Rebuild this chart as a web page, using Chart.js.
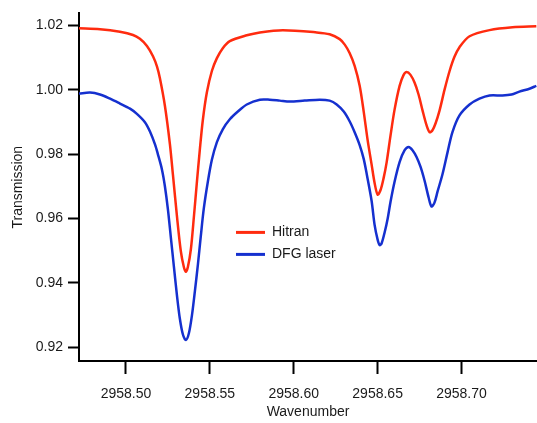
<!DOCTYPE html>
<html>
<head>
<meta charset="utf-8">
<script src="https://cdn.jsdelivr.net/npm/chart.js@4"></script>
<style>
  body { margin: 0; background: #fff; }
  canvas { display: block; }
</style>
</head>
<body>
<canvas id="specChart" width="537" height="423"></canvas>
<script>
// values
const hitranX = [2958.4720, 2958.4845, 2958.4964, 2958.5042, 2958.5083, 2958.5125, 2958.5161, 2958.5185,
  2958.5202, 2958.5232, 2958.5262, 2958.5280, 2958.5304, 2958.5327, 2958.5345, 2958.5357, 2958.5369,
  2958.5387, 2958.5405, 2958.5423, 2958.5440, 2958.5458, 2958.5482, 2958.5512, 2958.5542, 2958.5577,
  2958.5619, 2958.5720, 2958.5798, 2958.5935, 2958.6137, 2958.6214, 2958.6274, 2958.6304, 2958.6333,
  2958.6363, 2958.6393, 2958.6417, 2958.6440, 2958.6464, 2958.6482, 2958.6500, 2958.6518, 2958.6536,
  2958.6554, 2958.6577, 2958.6601, 2958.6631, 2958.6655, 2958.6673, 2958.6696, 2958.6720, 2958.6744,
  2958.6768, 2958.6792, 2958.6810, 2958.6827, 2958.6845, 2958.6869, 2958.6899, 2958.6929, 2958.6958,
  2958.6988, 2958.7048, 2958.7167, 2958.7304, 2958.7446];
const hitranY = [1.0191, 1.0188, 1.0180, 1.0170, 1.0158, 1.0136, 1.0104, 1.0072,
  1.0036, 0.9950, 0.9830, 0.9735, 0.9606, 0.9498, 0.9449, 0.9434, 0.9449,
  0.9505, 0.9606, 0.9714, 0.9812, 0.9905, 0.9991, 1.0058, 1.0098, 1.0129,
  1.0151, 1.0169, 1.0178, 1.0185, 1.0178, 1.0172, 1.0157, 1.0140, 1.0114,
  1.0074, 1.0012, 0.9932, 0.9845, 0.9768, 0.9710, 0.9674, 0.9689, 0.9726,
  0.9775, 0.9858, 0.9938, 1.0012, 1.0046, 1.0055, 1.0046, 1.0022, 0.9985,
  0.9935, 0.9889, 0.9868, 0.9874, 0.9895, 0.9935, 1.0000, 1.0058, 1.0102,
  1.0132, 1.0166, 1.0185, 1.0194, 1.0197];

const dfgX = [2958.4720, 2958.4786, 2958.4845, 2958.4905, 2958.4964, 2958.5024, 2958.5065, 2958.5113,
  2958.5143, 2958.5173, 2958.5190, 2958.5214, 2958.5232, 2958.5250, 2958.5268, 2958.5286, 2958.5304,
  2958.5321, 2958.5339, 2958.5357, 2958.5375, 2958.5393, 2958.5411, 2958.5429, 2958.5446, 2958.5464,
  2958.5488, 2958.5512, 2958.5542, 2958.5577, 2958.5619, 2958.5667, 2958.5720, 2958.5798, 2958.5857,
  2958.5917, 2958.5976, 2958.6065, 2958.6155, 2958.6214, 2958.6256, 2958.6298, 2958.6333, 2958.6363,
  2958.6393, 2958.6417, 2958.6435, 2958.6464, 2958.6482, 2958.6500, 2958.6512, 2958.6524, 2958.6542,
  2958.6560, 2958.6577, 2958.6601, 2958.6631, 2958.6661, 2958.6685, 2958.6708, 2958.6732, 2958.6756,
  2958.6780, 2958.6804, 2958.6821, 2958.6839, 2958.6857, 2958.6887, 2958.6917, 2958.6946, 2958.6988,
  2958.7048, 2958.7107, 2958.7167, 2958.7244, 2958.7298, 2958.7345, 2958.7405, 2958.7446];
const dfgY = [0.9988, 0.9991, 0.9985, 0.9972, 0.9957, 0.9941, 0.9925, 0.9899,
  0.9870, 0.9830, 0.9800, 0.9753, 0.9700, 0.9628, 0.9538, 0.9449, 0.9360,
  0.9289, 0.9240, 0.9222, 0.9243, 0.9298, 0.9375, 0.9458, 0.9545, 0.9631,
  0.9714, 0.9782, 0.9837, 0.9877, 0.9908, 0.9932, 0.9954, 0.9969, 0.9969,
  0.9966, 0.9963, 0.9966, 0.9969, 0.9966, 0.9954, 0.9932, 0.9902, 0.9868,
  0.9828, 0.9785, 0.9738, 0.9655, 0.9580, 0.9534, 0.9517, 0.9523, 0.9557,
  0.9600, 0.9652, 0.9714, 0.9775, 0.9812, 0.9822, 0.9812, 0.9791, 0.9760,
  0.9717, 0.9665, 0.9637, 0.9649, 0.9683, 0.9738, 0.9806, 0.9868, 0.9920,
  0.9954, 0.9972, 0.9982, 0.9982, 0.9985, 0.9994, 1.0003, 1.0012];

const xTicks = [2958.50, 2958.55, 2958.60, 2958.65, 2958.70];
const yTicks = [0.92, 0.94, 0.96, 0.98, 1.00, 1.02];

const seriesNames = ['Hitran', 'DFG laser'];
const seriesColors = ['#ff2b0f', '#1530cf'];

const toPoints = (xs, ys) => xs.map((x, i) => ({ x: x, y: ys[i] }));

const fontFam = '"Liberation Sans", Arial, sans-serif';
const textCol = '#1a1a1a';

// legend sits inside the plot, not in the default box
const innerLegend = {
  id: 'innerLegend',
  afterDatasetsDraw(chart) {
    const ctx = chart.ctx;
    const area = chart.chartArea;
    const x0 = area.left + 157;
    let y = area.top + 219;
    ctx.save();
    ctx.font = '14px ' + fontFam;
    ctx.textBaseline = 'middle';
    chart.data.datasets.forEach(ds => {
      ctx.strokeStyle = ds.borderColor;
      ctx.lineWidth = 3;
      ctx.beginPath();
      ctx.moveTo(x0, y);
      ctx.lineTo(x0 + 29, y);
      ctx.stroke();
      ctx.fillStyle = textCol;
      ctx.fillText(ds.label, x0 + 36, y);
      y += 22;
    });
    ctx.restore();
  }
};

const ctx = document.getElementById('specChart').getContext('2d');
const chart = new Chart(ctx, {
  type: 'line',
  data: {
    datasets: [
      { label: seriesNames[0], data: toPoints(hitranX, hitranY), borderColor: seriesColors[0] },
      { label: seriesNames[1], data: toPoints(dfgX, dfgY), borderColor: seriesColors[1] }
    ]
  },
  options: {
    responsive: false,
    animation: false,
    devicePixelRatio: 1,
    layout: { padding: { top: 10, right: 0, left: 0, bottom: 0 } },
    elements: {
      point: { radius: 0 },
      line: { borderWidth: 2.5, tension: 0.3, fill: false }
    },
    plugins: {
      legend: { display: false },
      tooltip: { enabled: false }
    },
    scales: {
      x: {
        type: 'linear',
        min: 2958.472,
        max: 2958.745,
        afterBuildTicks: s => { s.ticks = xTicks.map(v => ({ value: v })); },
        afterFit: s => { s.height = 62; },
        ticks: {
          callback: v => v.toFixed(2),
          font: { family: fontFam, size: 14 },
          color: textCol,
          padding: 12,
          maxRotation: 0,
          autoSkip: false
        },
        grid: { drawOnChartArea: false, drawTicks: true, tickLength: 13, tickWidth: 2, tickColor: '#000' },
        border: { display: true, color: '#000', width: 2 },
        title: {
          display: true,
          text: 'Wavenumber',
          font: { family: fontFam, size: 14 },
          color: textCol,
          padding: { top: 0, bottom: 2 }
        }
      },
      y: {
        min: 0.9157,
        max: 1.0237,
        afterBuildTicks: s => { s.ticks = yTicks.map(v => ({ value: v })); },
        afterFit: s => { s.width = 79; },
        ticks: {
          callback: v => v.toFixed(2),
          font: { family: fontFam, size: 14 },
          color: textCol,
          padding: 5
        },
        grid: { drawOnChartArea: false, drawTicks: true, tickLength: 11, tickWidth: 2, tickColor: '#000' },
        border: { display: true, color: '#000', width: 2 },
        title: {
          display: true,
          text: 'Transmission',
          font: { family: fontFam, size: 14 },
          color: textCol,
          padding: { top: 10, bottom: 0 }
        }
      }
    }
  },
  plugins: [innerLegend]
});
</script>
</body>
</html>
